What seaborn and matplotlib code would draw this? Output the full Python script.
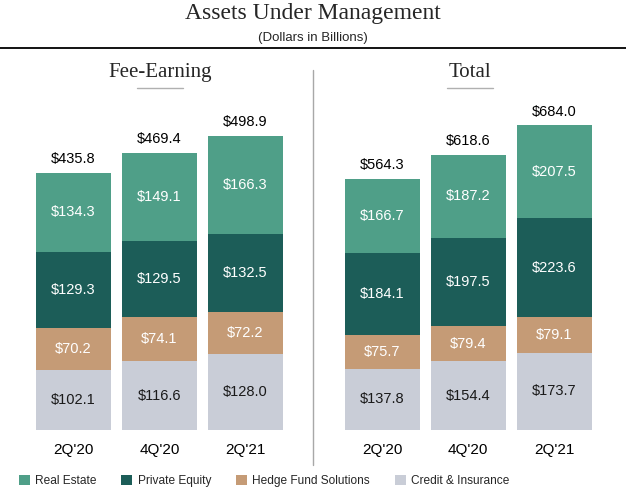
import matplotlib
matplotlib.use('Agg')
import matplotlib.pyplot as plt
import seaborn as sns
from matplotlib.patches import Patch
from matplotlib.lines import Line2D

# Data (Dollars in Billions)
periods = ["2Q'20", "4Q'20", "2Q'21"]
series = ['Real Estate', 'Private Equity', 'Hedge Fund Solutions', 'Credit & Insurance']

fee_real_estate = [134.3, 149.1, 166.3]
fee_private_equity = [129.3, 129.5, 132.5]
fee_hedge_fund = [70.2, 74.1, 72.2]
fee_credit = [102.1, 116.6, 128.0]
fee_total = [435.8, 469.4, 498.9]

tot_real_estate = [166.7, 187.2, 207.5]
tot_private_equity = [184.1, 197.5, 223.6]
tot_hedge_fund = [75.7, 79.4, 79.1]
tot_credit = [137.8, 154.4, 173.7]
tot_total = [564.3, 618.6, 684.0]

colors = {'Real Estate': '#4f9f88', 'Private Equity': '#1c5d58',
          'Hedge Fund Solutions': '#c59b76', 'Credit & Insurance': '#c9cdd7'}
text_colors = {'Real Estate': 'white', 'Private Equity': 'white',
               'Hedge Fund Solutions': 'white', 'Credit & Insurance': '#1a1a1a'}

sns.set_style('white')
plt.rcParams['font.family'] = ['Liberation Sans', 'DejaVu Sans']

W, H = 626, 494
fig = plt.figure(figsize=(W / 100, H / 100), dpi=100)


def px_axes(left, bottom_px, width, height):
    # bottom_px measured from top of image
    return fig.add_axes([left / W, (H - bottom_px) / H, width / W, height / H])


def stacked(ax, layers, totals, ymax):
    bottoms = [0.0] * len(periods)
    containers = []
    for name, vals in layers:
        sns.barplot(x=periods, y=vals, bottom=bottoms, color=colors[name],
                    width=0.87, saturation=1, ax=ax, linewidth=0)
        cont = ax.containers[-1]
        ax.bar_label(cont, labels=[f'${v:.1f}' for v in vals], label_type='center',
                     color=text_colors[name], fontsize=10.5)
        containers.append(cont)
        bottoms = [b + v for b, v in zip(bottoms, vals)]
    ax.bar_label(containers[-1], labels=[f'${v:.1f}' for v in totals], padding=5,
                 color='black', fontsize=10.5)
    ax.set_xlim(-0.6, 2.6)
    ax.set_ylim(0, ymax)
    ax.set_yticks([])
    ax.tick_params(axis='x', length=0, labelsize=11, pad=9, colors='black')
    sns.despine(ax=ax, left=True, bottom=True)
    ax.set_xlabel('')
    ax.set_ylabel('')


ax1 = px_axes(21.9, 430, 275.2, 354)
stacked(ax1, [('Credit & Insurance', fee_credit), ('Hedge Fund Solutions', fee_hedge_fund),
              ('Private Equity', fee_private_equity), ('Real Estate', fee_real_estate)],
        fee_total, 600)

ax2 = px_axes(330.5, 430, 275.2, 354)
stacked(ax2, [('Credit & Insurance', tot_credit), ('Hedge Fund Solutions', tot_hedge_fund),
              ('Private Equity', tot_private_equity), ('Real Estate', tot_real_estate)],
        tot_total, 795)

# titles
fig.text(0.5, 1 - 13 / H, 'Assets Under Management', ha='center', va='center',
         family='Liberation Serif', fontsize=17)
fig.text(0.5, 1 - 38 / H, '(Dollars in Billions)', ha='center', va='center', fontsize=9.5)
fig.add_artist(Line2D([0, 1], [1 - 48 / H] * 2, color='black', lw=1.3))

fig.text(160 / W, 1 - 72 / H, 'Fee-Earning', ha='center', va='center',
         family='Liberation Serif', fontsize=15)
fig.add_artist(Line2D([137 / W, 183 / W], [1 - 88 / H] * 2, color='#b0b0b0', lw=1))
fig.text(470 / W, 1 - 72 / H, 'Total', ha='center', va='center',
         family='Liberation Serif', fontsize=15)
fig.add_artist(Line2D([447 / W, 493 / W], [1 - 88 / H] * 2, color='#b0b0b0', lw=1))

# divider
fig.add_artist(Line2D([313 / W] * 2, [1 - 70 / H, 1 - 465 / H], color='#a8a8a8', lw=1))

handles = [Patch(facecolor=colors[s], edgecolor='none') for s in series]
fig.legend(handles, series, loc='center left', bbox_to_anchor=(8 / W, 1 - 481 / H),
           ncol=4, frameon=False, fontsize=8.6, handlelength=0.9, handleheight=0.9,
           handletextpad=0.45, columnspacing=2.1)

fig.savefig('out.png', dpi=100)
